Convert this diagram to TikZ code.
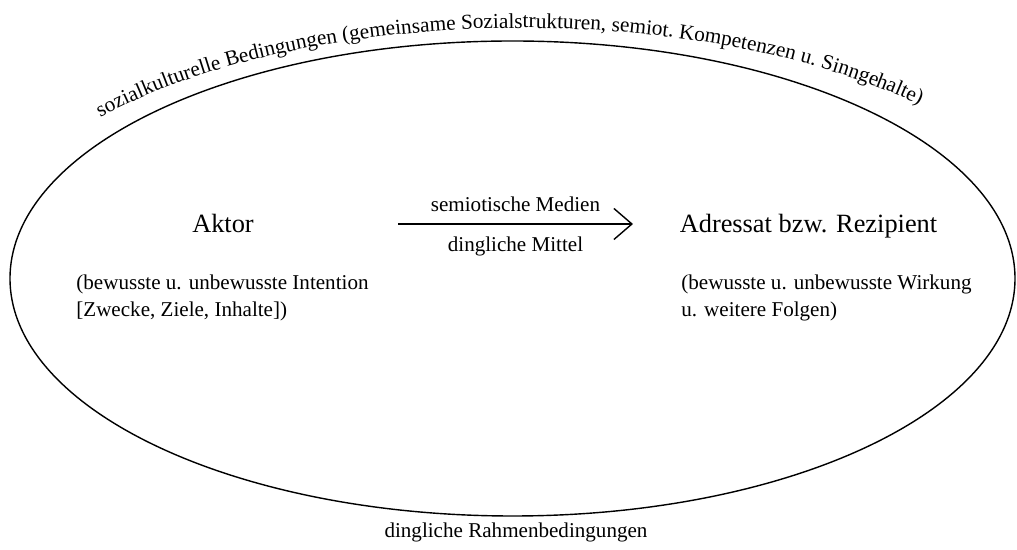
\documentclass[tikz,border=0pt]{standalone}
\usepackage{fontspec}
\setmainfont{Liberation Serif}
\usetikzlibrary{arrows.meta,decorations.text}
\tikzset{>={Straight Barb[length=3.6mm,width=6.2mm]}}

\begin{document}
\begin{tikzpicture}[
  bigtext/.style={font=\fontsize{15}{18}\selectfont, anchor=base},
  smalltext/.style={font=\fontsize{12}{15.3}\selectfont, align=left, inner sep=0, anchor=north west},
  labeltext/.style={font=\fontsize{12}{14}\selectfont}
]
  \useasboundingbox (0,0) rectangle (20.34,11);

  % Outer frame
  \coordinate (mid) at (10.25,5.43);
  \draw[line width=0.8pt] (mid) ellipse (10.05 and 4.75);
  \coordinate (textmid) at (10.45,5.43);
  \path[decorate,decoration={text along path,
      text={|\fontsize{12.1}{14}\selectfont|sozialkulturelle Bedingungen (gemeinsame Sozialstrukturen, semiot. Kompetenzen u. Sinngehalte)}}]
    ([shift={(140:11.02 and 5.01)}]textmid) arc[start angle=140, end angle=20, x radius=11.02, y radius=5.01];

  % Aktor and Adressat
  \node[bigtext] (aktor) at (4.46,6.34) {Aktor};
  \node[bigtext] (adressat) at (16.17,6.34) {Adressat bzw. Rezipient};
  \node[smalltext] (intention) at (1.52,5.5) {(bewusste u. unbewusste Intention\\{}[Zwecke, Ziele, Inhalte])};
  \node[smalltext] (wirkung) at (13.62,5.5) {(bewusste u. unbewusste Wirkung\\u. weitere Folgen)};

  % Medien
  \coordinate (medstart) at (7.96,6.52);
  \coordinate (medend) at (12.66,6.52);
  \draw[->, line width=0.8pt] (medstart) -- node[labeltext, above=3pt] (medien) {semiotische Medien}
    node[labeltext, below=3.5pt] (mittel) {dingliche Mittel} (medend);

  % Rahmen
  \node[labeltext, anchor=base] (rahmen) at (10.32,0.24) {dingliche Rahmenbedingungen};
\end{tikzpicture}
\end{document}
